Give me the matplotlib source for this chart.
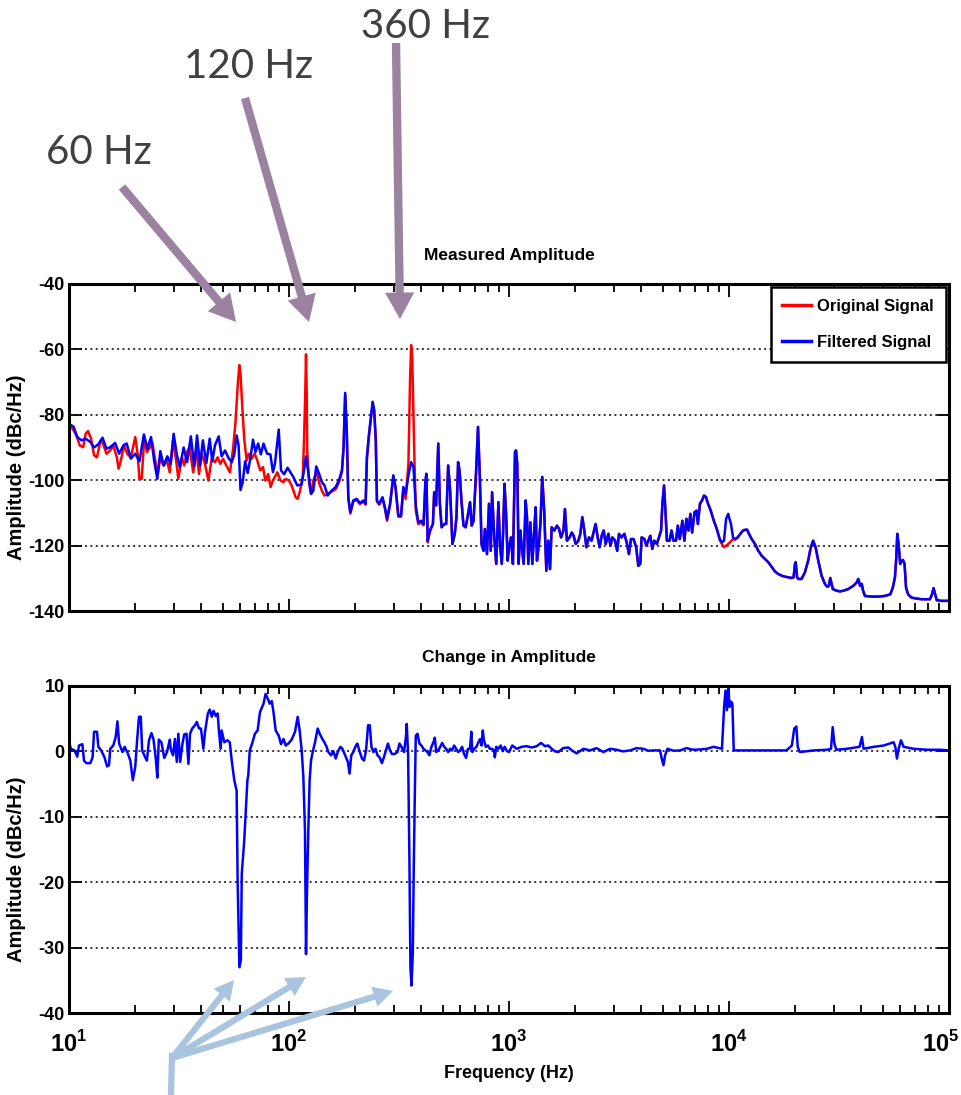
import numpy as np

import matplotlib as mpl
mpl.use('Agg')

import matplotlib.pyplot as pl
from matplotlib.ticker import FixedLocator, LogLocator, NullFormatter
from matplotlib.transforms import ScaledTranslation

mpl.rcParams['font.family'] = ['Liberation Sans Narrow', 'Liberation Sans', 'DejaVu Sans']
mpl.rcParams['font.weight'] = 'bold'
mpl.rcParams['axes.unicode_minus'] = False
mpl.rcParams['mathtext.fontset'] = 'custom'
mpl.rcParams['mathtext.rm'] = 'Liberation Sans:bold'
mpl.rcParams['mathtext.bf'] = 'Liberation Sans:bold'
mpl.rcParams['axes.facecolor'] = 'w'
mpl.rcParams['axes.edgecolor'] = 'k'
mpl.rcParams['figure.figsize'] = (9.61, 10.95)

# ---- data -----------------------------------------------------------------
# filtered spectrum (Hz, dBc/Hz)
filt_freq = [10, 10.5, 10.9, 11.4, 11.9, 12.5, 13.0, 13.6, 14.2, 14.8, 15.4, 16.2,
             16.9, 17.7, 18.3, 19.1, 20.0, 20.9, 21.9, 22.7, 23.6, 24.4, 25.2, 26.0,
             26.9, 28.0, 29.0, 29.9, 30.9, 31.9, 33.2, 34.4, 35.8, 37.1, 38.2, 39.4,
             40.6, 42.1, 43.6, 44.8, 46.1, 47.9, 49.4, 51.2, 53.0, 54.9, 56.4, 57.8,
             59.0, 60.2, 61.6, 63.2, 64.9, 66.7, 68.6, 70.4, 72.4, 74.5, 76.6, 79.5,
             82.3, 84.5, 86.3, 89.8, 92.0, 95.0, 98.5,
             104.6, 109, 114, 117, 119.5, 122, 126, 129, 133, 137, 141, 145, 150, 156,
             163, 169, 174, 177, 180, 183, 186, 190, 196, 203, 210, 218, 223, 226, 231,
             236, 240, 244, 248, 251, 257, 266, 273, 279, 288, 294, 298, 305, 314, 323,
             331, 339, 349, 359, 368, 377, 387, 398, 409, 417, 421, 427, 436, 451, 457,
             466, 477, 485, 494, 508, 518, 529, 540, 553, 567, 577, 587, 596, 608, 621,
             635, 648, 665, 677, 690, 708, 723, 737, 750, 766, 777, 794, 811, 826, 838,
             857, 875, 895, 910, 927, 940, 954, 970, 986,
             1000, 1021, 1042, 1065, 1076, 1090, 1106, 1126, 1140, 1166, 1190, 1207,
             1224, 1250, 1277, 1304, 1322, 1340, 1368, 1392, 1416, 1445, 1478, 1508,
             1536, 1563, 1607, 1652, 1689, 1724, 1768, 1796, 1834, 1885, 1929, 1967,
             2010, 2067, 2110, 2154, 2200, 2248, 2308, 2374, 2422, 2476, 2530, 2583,
             2638, 2694, 2751, 2831, 2892, 2952, 3038, 3103, 3162, 3252, 3345, 3440,
             3508, 3584, 3682, 3786, 3870, 3950, 4006, 4127, 4210, 4297, 4388, 4480,
             4572, 4700, 4805, 4912, 4980, 5066, 5140, 5222, 5370, 5480, 5592, 5742,
             5853, 5972, 6140, 6270, 6405, 6540, 6674, 6800, 6970, 7120, 7220, 7380,
             7540, 7700, 7860, 8030, 8260, 8530, 8800, 9080, 9280, 9490, 9700, 9920,
             10000, 10210, 10430, 10650, 10950, 11260, 11580, 11820, 12070, 12330,
             12680, 13130, 13590, 14080, 14580, 15090, 15630, 16180, 16750, 17350,
             17960, 18600, 19250, 19660, 19950, 20100, 20400, 20640, 21370, 22120,
             22900, 23540, 24120, 24750, 25450, 26350, 27280, 27970, 28460, 28860,
             29270, 29640, 30850, 31960, 33090, 34820, 36710, 38020, 38720, 39430,
             40120, 40690, 41500, 44600, 47600, 51100, 54100, 55500, 56800, 57600,
             58200, 59000, 60000, 60950, 61800, 62800, 63800, 65200, 67500, 71300,
             75000, 81900, 83700, 85100, 86500, 88000, 92200, 100000]
filt_amp = [-82.7, -83.7, -86.8, -87.8, -87.3, -88.3, -90.0, -89.0, -87.0, -90.4, -89.9, -88.6,
            -91.9, -89.3, -88.8, -93.4, -91.9, -94.2, -86.0, -90.4, -86.8, -94.2, -99.6, -91.1,
            -95.5, -92.7, -95.0, -85.8, -92.1, -96.0, -90.0, -94.5, -86.6, -95.8, -86.3, -95.5,
            -87.8, -94.8, -87.3, -94.2, -89.3, -86.6, -92.7, -90.9, -93.1, -94.5, -92.1, -86.3,
            -89.3, -103.0, -100.6, -94.2, -97.8, -93.4, -87.6, -91.4, -88.8, -92.1, -88.8, -91.9,
            -92.1, -97.5, -95.0, -84.5, -97.0, -98.2, -96.2,
            -99.0, -101.6, -101.3, -97.0, -92.7, -97.0, -104.2, -103.2, -95.8, -98.0, -100.6,
            -101.6, -104.7, -103.2,
            -102.1, -99.8, -97.0, -89.9, -73.3, -84.7, -105.2, -109.8, -106.2, -105.7, -107.0,
            -106.2, -107.2, -92.9, -85.8,
            -80.4, -76.0, -78.6, -87.8, -106.2, -107.2, -105.2, -108.3, -111.8, -107.2, -102.1,
            -98.5, -102.1, -110.8, -110.8,
            -102.1, -104.2, -98.5, -94.5, -96.0, -107.7, -112.9, -112.4, -113.4, -100.1, -98.0,
            -118.5, -115.4, -113.4, -103.7,
            -107.7, -88.8, -107.2, -114.4, -113.4, -113.4, -95.5, -103.2, -119.5, -116.4, -111.3,
            -94.5, -97.0, -106.2, -113.9,
            -114.4, -111.3, -106.7, -113.9, -112.4, -98.0, -83.7, -99.0, -119.5, -121.6, -114.9,
            -122.6, -107.2, -121.6, -103.7,
            -117.5, -125.6, -106.7, -119.5, -125.6, -116.4, -101.1, -110.3, -124.6,
            -120.5, -117.5, -125.6, -91.4, -90.9, -95.0, -125.6, -115.4, -119.5, -125.6, -106.2,
            -111.3,
            -125.6, -112.9, -125.6, -114.4, -108.3, -124.6, -119.5, -112.4, -99.0, -109.3, -127.7,
            -118.5,
            -127.2, -114.4, -115.4, -113.9, -114.9, -117.5, -115.4, -108.8, -118.5, -117.5, -116.0,
            -117.0,
            -119.5, -118.5, -116.4, -111.3, -115.4, -120.5, -117.5, -118.5, -116.0, -113.4, -117.5,
            -120.5,
            -117.0, -115.4, -119.5, -116.4, -120.0, -117.5, -118.5, -121.6, -116.4, -117.5, -116.4,
            -119.5,
            -122.6, -118.0, -118.0, -120.5, -126.2, -125.6, -117.5, -118.0, -120.0, -118.5, -117.0,
            -121.0,
            -118.5, -119.5, -117.5, -115.4, -107.2, -101.6, -109.3, -118.5, -118.5, -115.4, -118.5,
            -118.5,
            -113.9, -118.0, -112.4, -118.5, -111.8, -115.4, -110.3, -116.0, -109.8, -109.3, -113.4,
            -107.2,
            -106.2, -104.7, -105.2, -107.2, -109.3, -112.4, -114.9, -118.0, -119.0, -118.5, -111.8,
            -110.3,
            -111.3, -113.4, -117.5, -118.0, -117.5, -116.4, -115.4, -115.2, -115.1, -116.4,
            -118.0, -119.5, -121.6, -123.1, -124.1, -125.1, -126.5, -127.9, -128.7, -129.2,
            -129.5, -129.7, -129.9, -129.7, -125.6, -125.1, -129.7, -130.2, -130.2, -128.2,
            -124.6, -120.5, -118.5, -120.5, -124.6, -129.2, -131.7, -132.6, -132.3, -129.9,
            -131.7, -133.3, -133.8, -134.0, -133.8, -133.3, -132.3, -131.3, -130.2, -132.3,
            -131.7, -133.8, -135.4, -135.6, -135.6, -135.4, -134.9, -132.9, -129.7, -123.6,
            -116.4, -119.5, -125.6, -124.6, -124.4, -125.6, -132.9, -134.9, -135.9, -136.2,
            -136.4, -136.4, -134.9, -133.0, -134.9, -136.7, -136.9, -136.9]

# original spectrum where it differs from the filtered one (10 - 440 Hz)
orig_lo_freq = [10, 10.5, 10.8, 11.2, 11.6, 11.9, 12.2, 12.6, 13.0, 13.4, 13.9, 14.3,
                14.8, 15.4, 15.9, 16.5, 16.8, 17.2, 17.8, 18.4, 19.1, 20.0, 20.5, 20.9,
                21.4, 22.0, 22.6, 23.4, 23.9, 24.6, 25.3, 26.0, 27.0, 27.9, 28.7, 29.7,
                30.7, 31.4, 32.6, 33.4, 34.4, 35.3, 36.7, 37.9, 39.0, 40.1, 41.5, 43.0,
                44.5, 46.1, 47.4, 48.7, 50.2, 51.9, 53.9, 55.8, 57.2, 58.6, 59.5, 60.3,
                60.9, 62.0, 62.7, 64.2, 65.7, 67.5, 69.8, 71.8, 74.0, 76.2, 78.0, 80.5,
                82.5, 84.5, 88.5, 91.5, 94.2, 96.7, 100.0, 102.8, 107.2, 109.5, 112.3,
                115.5, 117.0, 118.5, 119.5, 120.5, 121.0, 123.5, 126.0, 129.0, 133.5,
                137.5, 141.0, 145.0, 150.0, 156, 163, 169, 174, 177, 180, 183, 186, 190,
                196, 203, 210, 218, 223, 226, 231, 236, 240, 244, 248, 251, 257, 266, 273,
                279, 288, 294, 298, 305, 314, 323, 331, 339, 349, 355, 359, 363, 368, 372,
                377, 387, 398, 409, 417, 421, 427, 436]
orig_lo_amp = [-82.8, -84.8, -86.3, -89.4, -89.9, -85.8, -85.0, -87.3, -92.4, -93.0, -87.9, -88.9,
               -91.9, -90.9, -89.4, -93.0, -96.5, -94.0, -89.4, -91.9, -93.0, -86.8, -91.9, -99.6,
               -99.6, -86.8, -91.4, -89.9, -88.4, -93.5, -98.0, -93.5, -95.5, -94.0, -97.6, -87.9,
               -94.0, -99.6, -93.0, -95.5, -91.4, -89.9, -97.6, -90.9, -98.1, -91.9, -95.0, -100.1,
               -93.5, -94.5, -93.0, -95.0, -93.5, -95.5, -97.6, -89.9, -81.7, -70.0, -64.8, -68.0,
               -74.0, -83.0, -87.9, -94.0, -91.9, -93.5, -91.9, -94.0, -97.0, -96.0, -100.1, -98.1,
               -102.1, -100.1, -97.6, -100.1, -100.6, -99.6, -100.1, -101.6, -105.2, -105.7, -103.2,
               -99.1, -87.9, -74.0, -61.5, -75.0, -91.0, -101.1, -104.2, -100.1, -97.6,
               -101.1, -103.2, -104.7, -104.2, -103.5, -102.8, -100.5, -97.5, -90.5, -74.0, -85.0,
               -105.5, -110.2,
               -106.5, -106.0, -107.3, -106.5, -107.5, -93.5, -86.5, -81.0, -76.5, -79.0, -88.0,
               -106.5, -107.5, -105.5, -108.8,
               -112.4, -107.5, -102.5, -99.0, -102.5, -111.2, -111.2, -102.5, -105.7, -95.0, -69.4,
               -58.7, -62.2, -80.6, -95.0,
               -109.3, -113.4, -113.0, -113.8, -100.5, -98.5, -119.0, -116.0]

# original spectrum around 10 kHz (lies below the filtered one there)
orig_10k_freq = [9080, 9280, 9500, 9800, 10100, 10430, 10650]
orig_10k_amp = [-118.3, -119.5, -120.5, -119.8, -119.0, -118.0, -118.2]

# change in amplitude (Hz, dBc/Hz)
chg_freq = [10, 10.2, 10.6, 10.9, 11.1, 11.5, 11.7, 12.0, 12.5, 12.8, 13.0, 13.4, 13.6, 14.0,
            14.5, 14.9, 15.2, 15.4, 15.9, 16.3, 16.6, 16.9, 17.5, 17.9, 18.5, 19.0, 19.5, 20.0,
            20.4, 20.8, 21.2, 21.5, 22.2, 22.6, 23.1, 23.7, 24.2, 24.8, 25.2, 25.6, 26.3, 27.1,
            27.9, 28.7, 29.0, 29.7, 30.3, 30.9, 31.4, 32.0, 32.8, 33.4, 34.2, 34.9, 35.5, 36.3,
            37.4, 38.1, 39.0, 39.8, 40.8, 41.6, 42.8, 43.6, 44.6, 45.4, 46.5, 47.4, 48.0, 48.9,
            49.4, 50.8, 52.5, 53.8, 54.9, 56.4, 57.8, 58.4, 59.5, 60.4, 61.0, 62.6, 63.4, 64.7,
            65.3, 66.3, 68.0, 70.0, 72.0, 73.8, 76.6, 78.3, 80.0, 81.7, 83.5, 85.0, 87.0, 89.8,
            92.0, 94.4, 96.6, 99.3, 102.8, 106.5, 109.5, 111.8, 114.2, 116.2, 118.2, 119.5,
            120.7, 122.4, 124.1, 125.9, 127.6, 131.3, 135.0, 138.3, 141.8, 144.7, 147.8, 151.0,
            155.2, 159.0, 163.1, 166.5, 171.2, 174.9, 180.0, 185.2, 188.5, 191.8, 195.9, 201.5,
            204.4, 208.7, 214.7, 219.3, 224.0, 228.8, 232.9, 237.0, 242.0, 247.2, 252.5, 258.0,
            264.4, 270.0, 275.8, 281.7, 287.7, 293.8, 302.4, 311.1, 317.7, 324.4, 333.4, 340.5,
            342.9, 347.8, 352.8, 356.4, 360.3, 365.3, 369.1, 373.0, 376.9, 383.6, 391.8, 400.0,
            408.4, 417.1, 425.9, 434.9, 444.0, 453.5, 460.0, 467.0, 476.7, 486.8, 497.0, 507.5,
            518.0, 529.0, 540.0, 551.0, 563.0, 575.0, 587.0, 599.0, 612.0, 625.0, 638.0, 651.0,
            665.0, 674.0, 681.0, 696.0, 711.0, 726.0, 739.0, 750.0, 760.0, 769.0, 785.0, 802.0,
            818.0, 837.0, 855.0, 862.0, 875.0, 896.0, 917.0, 936.0, 956.0, 978.0, 1000.0, 1035,
            1084, 1142, 1203, 1268, 1336, 1398, 1458, 1509, 1563, 1620, 1677, 1760, 1861, 1940,
            2029, 2180, 2334, 2500, 2685, 2880, 3087, 3300, 3548, 3800, 4076, 4300, 4531, 4858,
            4946, 5036, 5122, 5248, 5600, 5999, 6400, 6897, 7400, 7930, 8510, 9289, 9500, 9645,
            9787, 9930, 10070, 10215, 10360, 10510, 12110, 13850, 15880, 18250, 19300, 19800,
            20240, 20530, 20970, 24270, 27870, 29080, 29600, 30130, 30760, 34400, 39200, 40200,
            40900, 45500, 50500, 56000, 57000, 58000, 59000, 60500, 62200, 69000, 79500, 91000,
            100000]
chg_amp = [1.4, 0.4, 0.15, -0.8, 0.9, 1.1, -1.4, -1.8, -1.8, -0.9, 3.0, 3.0, 0.7, 0.15,
           -0.9, -2.3, -2.1, 0.4, 0.9, 2.2, 4.6, 1.2, -0.1, 0.7, -0.3, -1.4, -4.4, -2.4,
           1.7, 5.3, 5.3, 0.15, -0.9, -1.4, 1.7, 2.8, 1.9, -1.1, -4.0, 1.8, 1.4, -1.0,
           -0.1, 1.8, 0.4, -0.6, 1.9, -1.6, 2.7, -1.6, 1.2, 2.6, 2.7, -1.9, 2.7, 3.5,
           4.0, 4.5, 3.5, 3.5, 0.4, 3.2, 5.8, 6.4, 5.3, 6.2, 5.4, 5.8, 3.2, 0.4,
           3.2, 1.4, 1.7, 1.4, -1.4, -4.4, -6.0, -19.7, -33.0, -32.0, -18.7, -13.6, -10.1, -4.4,
           -3.7, 0.15, 1.2, 2.7, 3.2, 6.0, 7.3, 8.8, 8.1, 7.3, 7.7, 6.0, 3.2, 2.4,
           1.1, 1.9, 0.9, 1.2, 1.8, 3.0, 5.3, 3.2, 0.15, -3.9, -12.1, -31.0,
           -21.5, -12.1, -4.4, -1.4, -0.4, 1.4, 3.5, 2.6, 1.9, 1.4, 0.8, -0.1,
           -0.6, 0.05, -1.1, -0.1, 0.7, 0.4, -0.6, -1.6, -3.4, -0.6, -0.1, 0.9,
           1.2, 0.15, -1.1, -1.4, 0.15, 4.0, 4.0, 0.7, -0.1, 0.4, -0.6, -0.9,
           -1.8, -0.9, 0.15, 1.2, 0.15, -0.4, -0.4, -0.1, 1.2, 0.7, -0.1, 2.4,
           4.2, -0.4, -17.2, -33.0, -35.8, -31.0, -17.7, -7.0, 2.4, 2.7, 1.2, 0.9,
           0.4, 0.15, -0.1, -0.6, 0.7, 1.4, 2.1, -0.1, 0.15, 0.7, 1.3, 0.7,
           0.4, -0.1, 0.4, 0.15, 0.9, 0.4, -0.1, 0.15, 0.7, -0.4, -1.0, 0.4,
           0.4, 3.0, -0.1, 0.4, 0.7, 1.4, 1.9, 0.9, 3.2, 1.7, 0.7, 0.9,
           0.4, 0.4, 0.15, -0.9, 0.7, 0.4, 0.9, 0.05, 0.7, 0.05, -0.1, 0.9,
           0.4, 0.7, 0.8, 0.6, 0.8, 1.3, 0.8, 0.9, 0.4, 0.0, -0.1, 0.5, 0.6, 0.1,
           -0.3, 0.4, 0.15, 0.5, -0.1, 0.4, 0.25, 0.0, 0.15, 0.5, 0.4, 0.1, 0.15, 0.15,
           -1.1, -2.1, -0.6, 0.4, 0.1, 0.15, 0.5, 0.25, 0.3, 0.4, 0.7, 0.4, 6.8, 9.3,
           6.3, 9.8, 6.8, 7.6, 7.3, 0.15, 0.15, 0.15, 0.15, 0.15, 0.9, 3.5,
           3.8, 0.7, -0.1, 0.15, 0.25, 0.4, 3.7, 1.2, 0.25, 0.4, 0.7, 2.2,
           0.4, 0.7, 0.9, 1.4, 0.7, -1.1, 0.4, 1.7, 0.7, 0.4, 0.25, 0.25,
           0.15]

x_ticks = [1e1, 1e2, 1e3, 1e4, 1e5]
x_tick_labels = [r'$10^{1}$', r'$10^{2}$', r'$10^{3}$', r'$10^{4}$', r'$10^{5}$']
top_yticks = [-140, -120, -100, -80, -60, -40]
bot_yticks = [-40, -30, -20, -10, 0, 10]

# annotation texts
harmonics = ['60 Hz', '120 Hz', '360 Hz']

W, H = 961.0, 1095.0


def px(x, y):
    # picture pixel (from top-left) -> figure pixels
    return (x, H - y)


def style_axis(ax, yticks):
    ax.set_xscale('log')
    ax.set_xlim(x_ticks[0], x_ticks[-1])
    ax.set_ylim(yticks[0], yticks[-1])
    ax.yaxis.set_major_locator(FixedLocator(yticks))
    ax.xaxis.set_major_locator(FixedLocator(x_ticks))
    ax.xaxis.set_minor_locator(LogLocator(base=10, subs=np.arange(2, 10)))
    ax.xaxis.set_minor_formatter(NullFormatter())
    ax.set_axisbelow(True)
    ax.yaxis.grid(True, linestyle=(0, (1.3, 2.2)), color='k', linewidth=1.1)
    ax.tick_params(which='both', direction='in', top=True, right=True, width=1.3)
    ax.tick_params(which='major', length=9)
    ax.tick_params(which='minor', length=6)
    ax.tick_params(axis='y', labelsize=13, pad=3)
    for s in ax.spines.values():
        s.set_linewidth(2.2)
    ax.set_ylabel('Amplitude (dBc/Hz)', fontsize=14.5, fontweight='bold',
                  family=['Liberation Sans', 'DejaVu Sans'])
    ax.yaxis.set_label_coords(-0.049, 0.44)


def main():
    fig = pl.figure()

    ax1 = fig.add_axes([69 / W, 1 - 611 / H, 880 / W, 327 / H])
    ax2 = fig.add_axes([69 / W, 1 - 1013 / H, 880 / W, 327 / H])

    filt_f = np.array(filt_freq)
    filt_a = np.array(filt_amp)
    mid = (filt_f > 440) & (filt_f < 9000)
    high = filt_f > 10700
    orig_f = np.concatenate([orig_lo_freq, filt_f[mid], orig_10k_freq, filt_f[high]])
    orig_a = np.concatenate([orig_lo_amp, filt_a[mid], orig_10k_amp, filt_a[high]])

    ax1.plot(orig_f, orig_a, color='#ff0000', linewidth=1.8, label='Original Signal')
    ax1.plot(filt_f, filt_a, color='#0000ff', linewidth=1.8, label='Filtered Signal')
    style_axis(ax1, top_yticks)
    ax1.set_xticklabels([])
    ax1.set_title('Measured Amplitude', fontsize=12.5, fontweight='bold', pad=17)
    leg = ax1.legend(loc='upper right', fontsize=12, handlelength=1.7, handletextpad=0.4,
                     borderaxespad=0.2, fancybox=False, framealpha=1, edgecolor='k',
                     labelspacing=1.25, borderpad=0.7)
    leg.get_frame().set_linewidth(1.8)
    for line in leg.get_lines():
        line.set_linewidth(2.5)

    ax2.plot(chg_freq, chg_amp, color='#0000ff', linewidth=1.8)
    style_axis(ax2, bot_yticks)
    ax2.set_xticklabels(x_tick_labels, fontsize=17)
    ax2.tick_params(axis='x', pad=13)
    # last label sits on the figure edge: pull it inside
    last = ax2.get_xticklabels()[-1]
    last.set_horizontalalignment('right')
    last.set_transform(last.get_transform() + ScaledTranslation(10 / 100, 0, fig.dpi_scale_trans))
    ax2.set_title('Change in Amplitude', fontsize=12.5, fontweight='bold', pad=17)
    ax2.set_xlabel('Frequency (Hz)', fontsize=13, fontweight='bold', labelpad=6)

    # purple call-out arrows and labels
    purple = '#9b82a0'
    arrows = [((122, 187), (236, 322)), ((245, 98), (309, 322)), ((396, 43), (400, 319))]
    label_pos = [(46, 153), (184, 67), (361, 27)]
    for (tail, tip), txt, pos in zip(arrows, harmonics, label_pos):
        ax1.annotate('', xy=px(*tip), xycoords='figure pixels',
                     xytext=px(*tail), textcoords='figure pixels',
                     arrowprops=dict(width=6, headwidth=21, headlength=19,
                                     facecolor=purple, edgecolor='none'),
                     annotation_clip=False)
        fig.text(pos[0] / W, 1 - pos[1] / H, txt, fontsize=29, color='#404040',
                 family=['Lato', 'DejaVu Sans'], fontweight='normal', va='center', ha='left')

    # light blue arrows pointing at the notches
    lblue = '#a9c4de'
    base = (172, 1058)
    for tip in [(234, 980), (306, 977), (393, 991)]:
        ax2.annotate('', xy=px(*tip), xycoords='figure pixels',
                     xytext=px(*base), textcoords='figure pixels',
                     arrowprops=dict(width=4.5, headwidth=15, headlength=14,
                                     facecolor=lblue, edgecolor='none'),
                     annotation_clip=False)
    fig.add_artist(pl.Line2D([172 / W, 171 / W], [1 - 1056 / H, 0.0], color=lblue,
                             linewidth=4.5, transform=fig.transFigure))

    pl.savefig('out.png', format='png', dpi=100)
    pl.close()


if __name__ == "__main__":
    main()
